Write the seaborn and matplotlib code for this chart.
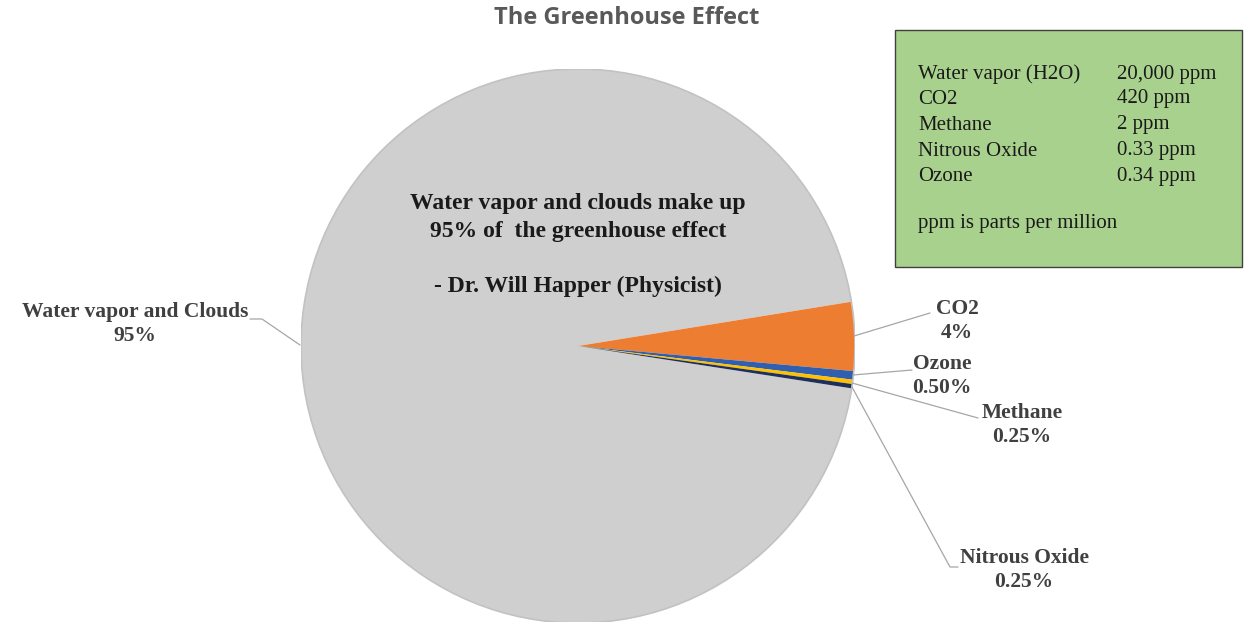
import matplotlib
matplotlib.use("Agg")
import matplotlib.pyplot as plt
import seaborn as sns
from matplotlib.patches import Rectangle

sns.set_style("white")
plt.rcParams['font.family'] = ['Liberation Serif', 'DejaVu Serif']

# pie data (clockwise order as in the chart)
gases = ['Water vapor and Clouds', 'CO2', 'Ozone', 'Methane', 'Nitrous Oxide']
shares = [95, 4, 0.5, 0.25, 0.25]
share_labels = ['95%', '4%', '0.50%', '0.25%', '0.25%']
colors = ['#d0cfcf', '#ed7d31', '#2f5fae', '#ffc000', '#1f2f5a']

# box with concentrations
table_gases = ['Water vapor (H2O)', 'CO2', 'Methane', 'Nitrous Oxide', 'Ozone']
table_ppm = ['20,000 ppm', '420 ppm', '2 ppm', '0.33 ppm', '0.34 ppm']

W, H = 1246, 622
CX, CY, R = 578, 346, 277

def d(px, py):
    # pixel -> data coords of the pie axes
    return ((px - CX) / R, (CY - py) / R)

fig = plt.figure(figsize=(W / 100, H / 100), dpi=100)
ax = fig.add_axes([(CX - R) / W, (H - CY - R) / H, 2 * R / W, 2 * R / H])
ax.pie(shares, colors=colors, startangle=-8.8, counterclock=False, radius=1,
       wedgeprops=dict(edgecolor='none'))
ax.add_patch(plt.Circle((0, 0), 1, fill=False, ec='#c2c2c2', lw=1.2))
ax.set_xlim(-1, 1)
ax.set_ylim(-1, 1)
ax.set_aspect('equal')
ax.axis('off')

# label text positions and leader line points (pixels)
label_pos = [(135, 324), (957, 321), (942, 376), (1022, 425), (1024, 570)]
leader = [[(300, 345), (262, 319), (250, 319)],
          [(854, 336), (930, 313)],
          [(853, 375), (912, 370)],
          [(852, 383), (978, 418)],
          [(852, 387), (950, 567), (958, 567)]]

for name, lab, pos, pts in zip(gases, share_labels, label_pos, leader):
    xs, ys = zip(*[d(*p) for p in pts])
    ax.plot(xs, ys, color='#a6a6a6', lw=0.9, clip_on=False)
    tx, ty = d(*pos)
    ax.text(tx, ty, f"{name}\n{lab}", ha='center', va='center', fontsize=15.5,
            fontweight='bold', color='#404040', linespacing=1.3, clip_on=False)

# quote inside the pie
qx, qy = d(578, 245)
ax.text(qx, qy, "Water vapor and clouds make up\n95% of  the greenhouse effect\n\n- Dr. Will Happer (Physicist)",
        ha='center', va='center', fontsize=17, fontweight='bold', color='#1a1a1a', linespacing=1.4)

fig.text(627 / W, 1 - 18 / H, "The Greenhouse Effect", ha='center', va='center',
         fontsize=17, fontweight='bold', color='#595959', family=['Open Sans', 'DejaVu Sans'])

# green info box
fig.patches.append(Rectangle((895 / W, 1 - 267 / H), 347 / W, 237 / H, transform=fig.transFigure,
                             facecolor='#a9d18e', edgecolor='#404040', lw=1))
row_y = [74, 99, 125, 151, 176]
for g, p, y in zip(table_gases, table_ppm, row_y):
    fig.text(918 / W, 1 - y / H, g, ha='left', va='center', fontsize=15, color='#1a1a1a')
    fig.text(1117 / W, 1 - y / H, p, ha='left', va='center', fontsize=15, color='#1a1a1a')
fig.text(918 / W, 1 - 223 / H, "ppm is parts per million", ha='left', va='center',
         fontsize=15, color='#1a1a1a')

fig.savefig('out.png', dpi=100)
